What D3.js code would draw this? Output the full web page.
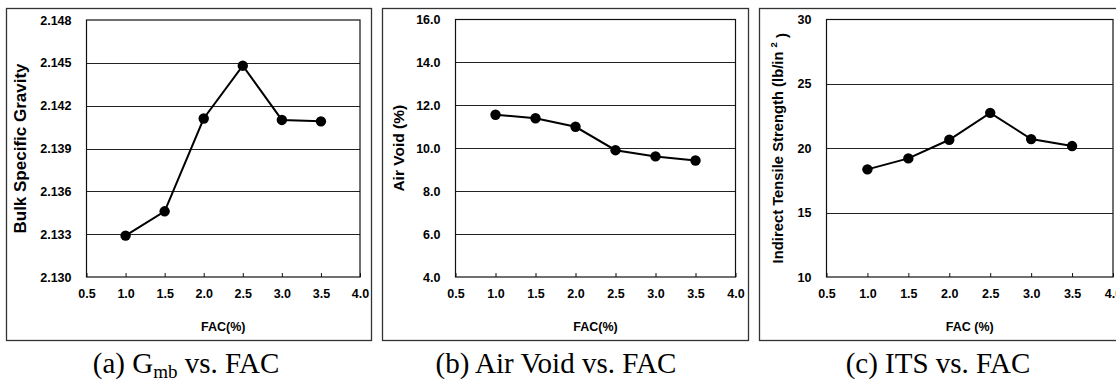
<!DOCTYPE html>
<html>
<head>
<meta charset="utf-8">
<script src="https://cdn.jsdelivr.net/npm/d3@7"></script>
<style>
  body { margin: 0; background: #fff; }
  svg text { font-family: "Liberation Sans", Arial, sans-serif; }
</style>
</head>
<body>
<div id="chart"></div>
<script>
// FAC content (%) shared by all three panels
const fac = [1.0, 1.5, 2.0, 2.5, 3.0, 3.5];
const xTicks = [0.5, 1.0, 1.5, 2.0, 2.5, 3.0, 3.5, 4.0];

// (a) bulk specific gravity
const gmbValues = [2.1329, 2.1346, 2.1411, 2.1448, 2.1410, 2.1409];
const gmbTicks = [2.130, 2.133, 2.136, 2.139, 2.142, 2.145, 2.148];

// (b) air void
const airVoidValues = [11.56, 11.40, 11.00, 9.91, 9.62, 9.43];
const airVoidTicks = [4, 6, 8, 10, 12, 14, 16];

// (c) indirect tensile strength
const itsValues = [18.36, 19.21, 20.66, 22.75, 20.71, 20.17];
const itsTicks = [10, 15, 20, 25, 30];

const width = 1116, height = 383;

const svg = d3.select("#chart")
  .append("svg")
    .attr("width", width)
    .attr("height", height);

const panels = [
  {
    box: [6.5, 8.5, 365, 332], plot: [86.5, 20, 360, 277],
    values: gmbValues, ticks: gmbTicks, fmt: d3.format(".3f"),
    yTitle: "Bulk Specific Gravity", yTitleX: 20, yTitleSize: 17, xTitle: "FAC(%)",
    caption: ["(a) G", "mb", " vs. FAC"], captionX: 186
  },
  {
    box: [382.5, 8.5, 366, 332], plot: [455.5, 19.5, 735.5, 277],
    values: airVoidValues, ticks: airVoidTicks, fmt: d3.format(".1f"),
    yTitle: "Air Void (%)", yTitleX: 399, yTitleSize: 15.5, xTitle: "FAC(%)",
    caption: ["(b) Air Void vs. FAC"], captionX: 556
  },
  {
    box: [759.5, 8.5, 370, 332], plot: [826.5, 19.5, 1113, 277],
    values: itsValues, ticks: itsTicks, fmt: d3.format("d"),
    yTitle: "Indirect Tensile Strength (lb/in ", yTitleSup: "2", yTitleEnd: ")",
    yTitleX: 778, yTitleSize: 14.8, xTitle: "FAC (%)",
    caption: ["(c) ITS vs. FAC"], captionX: 938
  }
];

panels.forEach(p => drawPanel(p));

function drawPanel(p) {
  const [left, top, right, bottom] = p.plot;

  // outer frame of the panel
  svg.append("rect")
    .attr("x", p.box[0])
    .attr("y", p.box[1])
    .attr("width", p.box[2])
    .attr("height", p.box[3])
    .attr("fill", "none")
    .attr("stroke", "#333")
    .attr("stroke-width", 1.3);

  // scales
  const xScale = d3.scaleLinear()
    .domain([0.5, 4.0])
    .range([left, right]);
  const yScale = d3.scaleLinear()
    .domain(d3.extent(p.ticks))
    .range([bottom, top]);

  const bounds = svg.append("g");

  // horizontal gridlines
  bounds.append("g")
    .selectAll("line")
    .data(p.ticks.slice(1, -1))
    .join("line")
      .attr("x1", left)
      .attr("x2", right)
      .attr("y1", d => Math.round(yScale(d)) + 0.5)
      .attr("y2", d => Math.round(yScale(d)) + 0.5)
      .attr("stroke", "#222")
      .attr("stroke-width", 1);

  // plot area border
  bounds.append("rect")
    .attr("x", left)
    .attr("y", top)
    .attr("width", right - left)
    .attr("height", bottom - top)
    .attr("fill", "none")
    .attr("stroke", "#111")
    .attr("stroke-width", 1.2);

  // x axis: ticks point inward, labels below
  const xAxis = d3.axisBottom(xScale)
    .tickValues(xTicks)
    .tickSize(-4)
    .tickPadding(12)
    .tickFormat(d3.format(".1f"));
  const gx = bounds.append("g")
    .attr("transform", `translate(0,${bottom})`)
    .call(xAxis);
  gx.select(".domain").remove();
  gx.selectAll("line").attr("stroke", "#111");
  gx.selectAll("text")
    .attr("font-size", 12.5)
    .attr("font-weight", "bold")
    .attr("fill", "#000");

  // y axis labels
  const yAxis = d3.axisLeft(yScale)
    .tickValues(p.ticks)
    .tickSize(0)
    .tickPadding(15)
    .tickFormat(p.fmt);
  const gy = bounds.append("g")
    .attr("transform", `translate(${left},0)`)
    .call(yAxis);
  gy.select(".domain").remove();
  gy.selectAll("text")
    .attr("font-size", 12.5)
    .attr("font-weight", "bold")
    .attr("fill", "#000");

  // data line
  const lineGenerator = d3.line()
    .x((d, i) => xScale(fac[i]))
    .y(d => yScale(d));

  bounds.append("path")
    .attr("d", lineGenerator(p.values))
    .attr("fill", "none")
    .attr("stroke", "#000")
    .attr("stroke-width", 2);

  bounds.append("g")
    .selectAll("circle")
    .data(p.values)
    .join("circle")
      .attr("cx", (d, i) => xScale(fac[i]))
      .attr("cy", d => yScale(d))
      .attr("r", 5.2)
      .attr("fill", "#000");

  // axis titles
  svg.append("text")
    .attr("x", (left + right) / 2)
    .attr("y", 331)
    .attr("text-anchor", "middle")
    .attr("font-size", 12.5)
    .attr("font-weight", "bold")
    .text(p.xTitle);

  const yt = svg.append("text")
    .attr("transform", `translate(${p.yTitleX},${(top + bottom) / 2}) rotate(-90)`)
    .attr("text-anchor", "middle")
    .attr("dy", "0.35em")
    .attr("font-size", p.yTitleSize)
    .attr("font-weight", "bold")
    .text(p.yTitle);
  if (p.yTitleSup) {
    yt.append("tspan")
      .attr("font-size", 9.5)
      .attr("dy", "-0.7em")
      .text(p.yTitleSup);
    yt.append("tspan")
      .attr("dy", "0.7em")
      .attr("font-size", p.yTitleSize)
      .text(" " + p.yTitleEnd);
  }

  // caption under the panel
  const cap = svg.append("text")
    .attr("x", p.captionX)
    .attr("y", 373)
    .attr("text-anchor", "middle")
    .style("font-family", "'Liberation Serif', 'Times New Roman', serif")
    .attr("font-size", 29)
    .text(p.caption[0]);
  if (p.caption.length > 1) {
    cap.append("tspan")
      .attr("font-size", 19)
      .attr("dy", 5)
      .text(p.caption[1]);
    cap.append("tspan")
      .attr("dy", -5)
      .text(p.caption[2]);
  }
}
</script>
</body>
</html>
